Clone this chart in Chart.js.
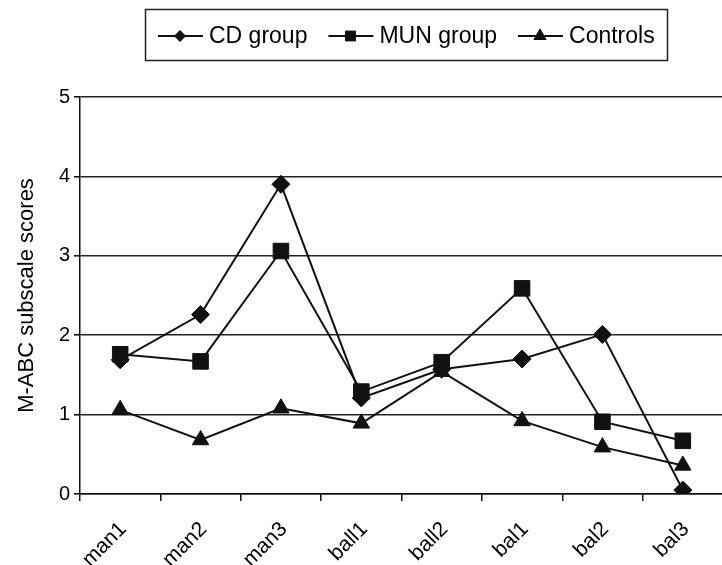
<!DOCTYPE html>
<html>
<head>
<meta charset="utf-8">
<script src="https://cdn.jsdelivr.net/npm/chart.js@4/dist/chart.umd.min.js"></script>
<style>
  html, body { margin: 0; padding: 0; background: #fff; overflow: hidden; width: 722px; height: 565px; }
  canvas { display: block; }
</style>
</head>
<body>
<canvas id="c" width="735" height="565"></canvas>
<script>
// ---- data ----
const categories = ['man1', 'man2', 'man3', 'ball1', 'ball2', 'bal1', 'bal2', 'bal3'];
const cdGroup   = [1.69, 2.26, 3.90, 1.21, 1.57, 1.70, 2.01, 0.05];
const munGroup  = [1.76, 1.67, 3.06, 1.29, 1.66, 2.59, 0.91, 0.67];
const controls  = [1.06, 0.68, 1.08, 0.89, 1.54, 0.92, 0.59, 0.36];
const yTicks    = [0, 1, 2, 3, 4, 5];
const seriesNames = ['CD group', 'MUN group', 'Controls'];
const yTitle = 'M-ABC subscale scores';

const FONT = '"Liberation Sans", Arial, Helvetica, sans-serif';
const INK = '#111';

function drawMarker(ctx, style, r, x, y) {
  if (Chart.helpers && Chart.helpers.drawPoint) {
    Chart.helpers.drawPoint(ctx, { pointStyle: style, radius: r, rotation: 0, borderWidth: 1 }, x, y);
    return;
  }
  ctx.beginPath();
  if (style === 'rectRot') {
    ctx.moveTo(x, y - r); ctx.lineTo(x + r, y); ctx.lineTo(x, y + r); ctx.lineTo(x - r, y);
  } else if (style === 'rect') {
    const s = r * Math.SQRT1_2; ctx.rect(x - s, y - s, 2 * s, 2 * s);
  } else {
    ctx.moveTo(x, y - r); ctx.lineTo(x + r * 0.866, y + r / 2); ctx.lineTo(x - r * 0.866, y + r / 2);
  }
  ctx.closePath(); ctx.fill(); ctx.stroke();
}

const legendPlugin = {
  id: 'boxLegend',
  afterDraw(chart) {
    const ctx = chart.ctx;
    ctx.save();
    ctx.font = '23px ' + FONT;
    ctx.textBaseline = 'middle';
    ctx.textAlign = 'left';
    const legendR = { rectRot: 5.5, rect: 7, triangle: 7 };
    let x = 158;
    const y = 36;
    chart.data.datasets.forEach(ds => {
      ctx.strokeStyle = INK; ctx.fillStyle = INK; ctx.lineWidth = 2;
      ctx.beginPath(); ctx.moveTo(x, y); ctx.lineTo(x + 45, y); ctx.stroke();
      ctx.lineWidth = 1;
      drawMarker(ctx, ds.pointStyle, legendR[ds.pointStyle], x + 22, y);
      ctx.fillStyle = '#000';
      ctx.fillText(ds.label, x + 51, y + 1);
      x += 51 + ctx.measureText(ds.label).width + 21;
    });
    ctx.strokeStyle = '#222'; ctx.lineWidth = 1.5;
    ctx.strokeRect(145.5, 9.5, 522, 51);
    ctx.restore();
  }
};

const mk = (label, data, style, r) => ({
  label, data,
  borderColor: INK, borderWidth: 2,
  pointStyle: style, pointRadius: r, pointHoverRadius: r,
  pointBackgroundColor: INK, pointBorderColor: INK, pointBorderWidth: 1,
  tension: 0, fill: false
});

new Chart(document.getElementById('c'), {
  type: 'line',
  data: {
    labels: categories,
    datasets: [
      mk(seriesNames[0], cdGroup, 'rectRot', 9),
      mk(seriesNames[1], munGroup, 'rect', 11),
      mk(seriesNames[2], controls, 'triangle', 9.5)
    ]
  },
  options: {
    responsive: false,
    animation: false,
    devicePixelRatio: 1,
    layout: { padding: { top: 97, right: 0, left: 0, bottom: 0 } },
    plugins: { legend: { display: false }, tooltip: { enabled: false } },
    scales: {
      x: {
        offset: true,
        grid: { offset: true, drawOnChartArea: false, drawTicks: true, tickLength: 7, tickColor: '#111', lineWidth: 1.5 },
        border: { display: true, color: '#111', width: 1.5 },
        ticks: { color: '#000', font: { family: FONT, size: 21 }, minRotation: 45, maxRotation: 45, padding: 16, labelOffset: 3, autoSkip: false },
        afterFit(scale) { scale.height = 71; }
      },
      y: {
        min: 0, max: 5,
        afterBuildTicks(scale) { scale.ticks = yTicks.map(v => ({ value: v })); },
        grid: { color: '#222', lineWidth: 1.6, drawTicks: true, tickLength: 6, tickColor: '#111' },
        border: { display: true, color: '#111', width: 1.5 },
        ticks: { color: '#000', font: { family: FONT, size: 20 }, padding: 4 },
        title: { display: true, text: yTitle, color: '#000', font: { family: FONT, size: 22 }, padding: { top: 14, bottom: 0 } },
        afterFit(scale) { scale.width = 80; }
      }
    }
  },
  plugins: [legendPlugin]
});
</script>
</body>
</html>
